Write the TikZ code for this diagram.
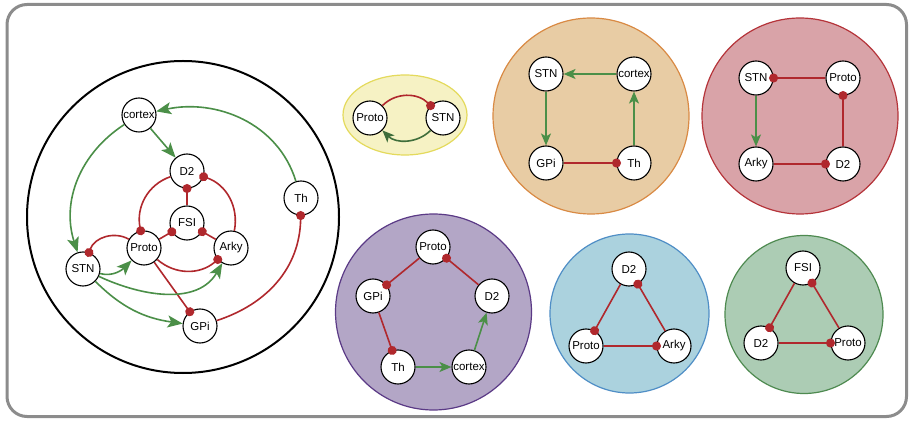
\documentclass[tikz,border=0pt]{standalone}
\usepackage{fontspec}
\setsansfont{Liberation Sans}
\usetikzlibrary{arrows.meta}
\definecolor{exgreen}{HTML}{4B8F48}
\definecolor{dkgreen}{HTML}{3F6E3B}
\definecolor{inred}{HTML}{B0282D}
\definecolor{framegray}{HTML}{8C8C8C}
\definecolor{yelfill}{HTML}{F6F2C4}
\definecolor{yelline}{HTML}{E4DA5C}
\definecolor{orgfill}{HTML}{E8CCA4}
\definecolor{orgline}{HTML}{D98A44}
\definecolor{pinkfill}{HTML}{D9A3A8}
\definecolor{pinkline}{HTML}{B5343A}
\definecolor{purfill}{HTML}{B3A6C6}
\definecolor{purline}{HTML}{5B3A86}
\definecolor{bluefill}{HTML}{ABD2DE}
\definecolor{blueline}{HTML}{4F8EC6}
\definecolor{grnfill}{HTML}{ACCCB4}
\definecolor{grnline}{HTML}{4E8A50}

\begin{document}
\begin{tikzpicture}[x=1pt,y=1pt,
  cell/.style={circle,draw=black,fill=white,line width=1.1pt,minimum size=34pt,inner sep=0pt,font=\sffamily\fontsize{11.5}{12}\selectfont},
  exc/.style={draw=exgreen,line width=1.6pt,-{Stealth[length=12pt,width=10pt,inset=3pt]}},
  bigexc/.style={exc,-{Stealth[length=15pt,width=12pt,inset=3.5pt]}},
  inh/.style={draw=inred,line width=1.6pt,-{Circle[length=9pt]},shorten >=-4.5pt},
  panel/.style={line width=1.2pt}]
  \useasboundingbox (0,0) rectangle (912,-427);
  \draw[framegray,line width=3pt,rounded corners=20pt,fill=white] (7,-4.5) rectangle (906.5,-416.5);
  % full circuit
  \draw[line width=2pt,fill=white] (183,-217) circle (156);
  \node[cell] (cortex) at (139,-115) {cortex}; \node[cell] (d2) at (187,-171) {D2}; \node[cell] (fsi) at (187,-223) {FSI};
  \node[cell] (proto) at (144,-248) {Proto}; \node[cell] (arky) at (231,-248) {Arky}; \node[cell] (stn) at (83,-269) {STN};
  \node[cell] (gpi) at (200,-326) {GPi}; \node[cell] (th) at (301,-198) {Th};
  \draw[bigexc] (th) to[out=107,in=12] (cortex); \draw[bigexc] (cortex) to[out=213,in=108] (stn); \draw[bigexc] (cortex) -- (d2);
  \draw[inh] (d2) to[out=199,in=101] (proto); \draw[inh] (arky) to[out=79,in=-19] (d2); \draw[inh] (proto) to[out=-41,in=221] (arky);
  \draw[inh] (fsi) -- (d2); \draw[inh] (proto) -- (fsi); \draw[inh] (arky) -- (fsi);
  \draw[inh] (proto) to[out=150,in=70] (stn); \draw[inh] (proto) -- (gpi); \draw[inh] (gpi) to[out=18,in=-91] (th);
  \draw[bigexc] (stn) to[out=-15,in=225] (proto); \draw[bigexc] (stn) to[out=-25,in=240] (arky); \draw[bigexc] (stn) to[out=-45,in=172] (gpi);
  % Proto-STN loop
  \draw[panel,draw=yelline,fill=yelfill] (405,-115) ellipse (62 and 40);
  \node[cell] (yproto) at (370,-118) {Proto}; \node[cell] (ystn) at (443,-118) {STN};
  \draw[inh] (yproto) to[out=45,in=135] (ystn); \draw[exc,draw=dkgreen] (ystn) to[out=-135,in=-45] (yproto);
  % cortex-STN-GPi-Th loop
  \draw[panel,draw=orgline,fill=orgfill] (591,-116) circle (98);
  \node[cell] (ostn) at (546,-74) {STN}; \node[cell] (ocortex) at (634,-74) {cortex}; \node[cell] (ogpi) at (546,-163) {GPi}; \node[cell] (oth) at (634,-163) {Th};
  \draw[exc] (ocortex) -- (ostn); \draw[exc] (ostn) -- (ogpi); \draw[exc] (oth) -- (ocortex); \draw[inh] (ogpi) -- (oth);
  % STN-Proto-D2-Arky loop
  \draw[panel,draw=pinkline,fill=pinkfill] (800,-116) circle (98);
  \node[cell] (rstn) at (756,-78) {STN}; \node[cell] (rproto) at (843,-78) {Proto}; \node[cell] (rarky) at (756,-164) {Arky}; \node[cell] (rd2) at (843,-164) {D2};
  \draw[inh] (rproto) -- (rstn); \draw[inh] (rd2) -- (rproto); \draw[exc] (rstn) -- (rarky); \draw[inh] (rarky) -- (rd2);
  % Proto-GPi-Th-cortex-D2 loop
  \draw[panel,draw=purline,fill=purfill] (433.5,-312) circle (98);
  \node[cell] (pproto) at (433,-247) {Proto}; \node[cell] (pgpi) at (373,-296) {GPi}; \node[cell] (pd2) at (492,-296) {D2};
  \node[cell] (pth) at (398,-367) {Th}; \node[cell] (pcortex) at (469,-367) {cortex};
  \draw[inh] (pd2) -- (pproto); \draw[inh] (pproto) -- (pgpi); \draw[inh] (pgpi) -- (pth); \draw[exc] (pth) -- (pcortex); \draw[exc] (pcortex) -- (pd2);
  % D2-Proto-Arky loop
  \draw[panel,draw=blueline,fill=bluefill] (629.5,-313.5) circle (79.5);
  \node[cell] (bd2) at (629,-269) {D2}; \node[cell] (bproto) at (586,-346) {Proto}; \node[cell] (barky) at (674,-346) {Arky};
  \draw[inh] (bd2) -- (bproto); \draw[inh] (barky) -- (bd2); \draw[inh] (bproto) -- (barky);
  % FSI-D2-Proto loop
  \draw[panel,draw=grnline,fill=grnfill] (804,-314.5) circle (79);
  \node[cell] (gfsi) at (803,-268) {FSI}; \node[cell] (gd2) at (761,-343) {D2}; \node[cell] (gproto) at (848,-343) {Proto};
  \draw[inh] (gfsi) -- (gd2); \draw[inh] (gproto) -- (gfsi); \draw[inh] (gd2) -- (gproto);
\end{tikzpicture}
\end{document}
